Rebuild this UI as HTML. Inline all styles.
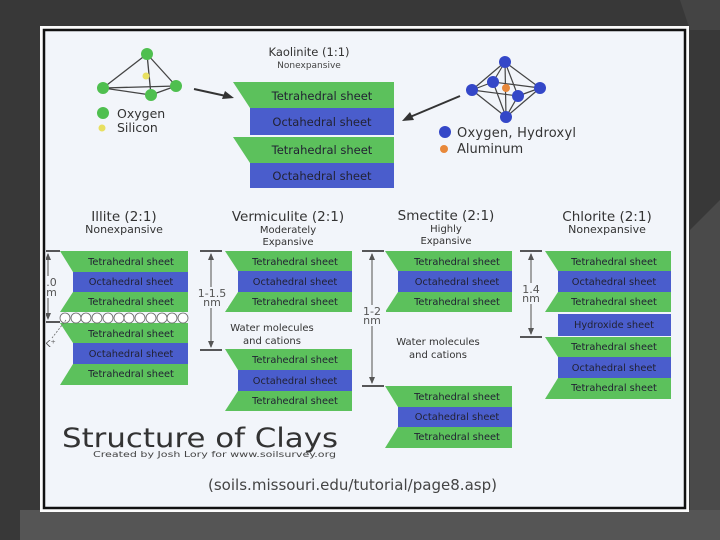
<!DOCTYPE html>
<html><head><meta charset="utf-8"><style>
html,body{margin:0;padding:0;background:#3b3b3b;}
svg{display:block}
text{font-family:"DejaVu Sans","Liberation Sans",sans-serif;}
</style></head><body>
<svg width="720" height="540" viewBox="0 0 720 540" xmlns="http://www.w3.org/2000/svg">
<rect width="720" height="540" fill="#383838"/>
<polygon points="415,0 720,0 720,30 690,30 680,0" fill="#444"/>
<polygon points="690,230 720,200 720,540 690,540" fill="#4a4a4a"/>
<rect x="20" y="510" width="700" height="30" fill="#555"/>
<!-- panel -->
<rect x="40" y="26" width="649" height="486" fill="#fbfbfb"/>
<rect x="44" y="30" width="641" height="478" fill="#f2f5fa" stroke="#111" stroke-width="2.5"/>
<defs><clipPath id="c"><rect x="46" y="32" width="638" height="474"/></clipPath></defs>
<g clip-path="url(#c)">
<!-- tetrahedron -->
<g stroke="#444" stroke-width="1.3" fill="none">
<line x1="147" y1="54" x2="103" y2="88"/><line x1="147" y1="54" x2="151" y2="95"/><line x1="147" y1="54" x2="176" y2="86"/>
<line x1="103" y1="88" x2="151" y2="95"/><line x1="151" y1="95" x2="176" y2="86"/><line x1="103" y1="88" x2="176" y2="86"/>
</g>
<circle cx="146" cy="76" r="3.5" fill="#e8e060"/>
<g fill="#4fbf4f"><circle cx="147" cy="54" r="6"/><circle cx="103" cy="88" r="6"/><circle cx="151" cy="95" r="6"/><circle cx="176" cy="86" r="6"/><circle cx="103" cy="113" r="6"/></g>
<circle cx="102" cy="128" r="3.5" fill="#e8e060"/>
<text x="117" y="118" font-size="12.5" fill="#333">Oxygen</text>
<text x="117" y="132" font-size="12.5" fill="#333">Silicon</text>
<line x1="194" y1="89" x2="226" y2="96" stroke="#333" stroke-width="2"/>
<polygon points="234,98 222,99 225,91" fill="#333"/>
<!-- octahedron -->
<g stroke="#444" stroke-width="1.2">
<line x1="505" y1="62" x2="472" y2="90"/><line x1="505" y1="62" x2="540" y2="88"/><line x1="505" y1="62" x2="493" y2="82"/><line x1="505" y1="62" x2="518" y2="96"/>
<line x1="506" y1="117" x2="472" y2="90"/><line x1="506" y1="117" x2="540" y2="88"/><line x1="506" y1="117" x2="493" y2="82"/><line x1="506" y1="117" x2="518" y2="96"/>
<line x1="472" y1="90" x2="493" y2="82"/><line x1="493" y1="82" x2="540" y2="88"/><line x1="540" y1="88" x2="518" y2="96"/><line x1="518" y1="96" x2="472" y2="90"/>
<line x1="505" y1="62" x2="506" y2="117"/>
</g>
<circle cx="506" cy="88" r="4" fill="#e8883a"/>
<g fill="#3447c8"><circle cx="505" cy="62" r="6"/><circle cx="472" cy="90" r="6"/><circle cx="540" cy="88" r="6"/><circle cx="493" cy="82" r="6"/><circle cx="518" cy="96" r="6"/><circle cx="506" cy="117" r="6"/><circle cx="445" cy="132" r="6"/></g>
<circle cx="444" cy="149" r="4" fill="#e8883a"/>
<text x="457" y="137" textLength="119" font-size="13" fill="#333">Oxygen, Hydroxyl</text>
<text x="457" y="153" font-size="13" fill="#333">Aluminum</text>
<line x1="460" y1="96" x2="410" y2="117" stroke="#333" stroke-width="2"/>
<polygon points="402,121 410,112 414,120" fill="#333"/>
<!-- Kaolinite -->
<text x="309" y="56" font-size="11.5" fill="#333" text-anchor="middle">Kaolinite (1:1)</text>
<text x="309" y="68" font-size="9" fill="#444" text-anchor="middle">Nonexpansive</text>
<g font-size="11.5" fill="#223" text-anchor="middle">
<polygon points="233,82 394,82 394,108 250,108" fill="#5cc15c"/>
<rect x="250" y="108" width="144" height="27" fill="#4a5dcc"/>
<polygon points="233,137 394,137 394,163 250,163" fill="#5cc15c"/>
<rect x="250" y="163" width="144" height="25" fill="#4a5dcc"/>
<text x="322" y="100">Tetrahedral sheet</text>
<text x="322" y="126">Octahedral sheet</text>
<text x="322" y="154">Tetrahedral sheet</text>
<text x="322" y="180">Octahedral sheet</text>
</g>
<!-- headings -->
<g fill="#333" text-anchor="middle">
<text x="124" y="221" font-size="13.5">Illite (2:1)</text>
<text x="124" y="233" font-size="11">Nonexpansive</text>
<text x="288" y="221" font-size="13.5">Vermiculite (2:1)</text>
<text x="288" y="233" font-size="10">Moderately</text>
<text x="288" y="245" font-size="10">Expansive</text>
<text x="446" y="220" font-size="13.5">Smectite (2:1)</text>
<text x="446" y="232" font-size="10">Highly</text>
<text x="446" y="244" font-size="10">Expansive</text>
<text x="607" y="221" font-size="13.5">Chlorite (2:1)</text>
<text x="607" y="233" font-size="11">Nonexpansive</text>
<text x="272" y="331" font-size="10">Water molecules</text>
<text x="272" y="344" font-size="10">and cations</text>
<text x="438" y="345" font-size="10">Water molecules</text>
<text x="438" y="358" font-size="10">and cations</text>
</g>
<!-- sheets 2:1 -->
<g font-size="9.8" fill="#223" text-anchor="middle">
<polygon points="60,251 188,251 188,272 73,272" fill="#5cc15c"/>
<rect x="73" y="272" width="115" height="20" fill="#4a5dcc"/>
<polygon points="73,292 188,292 188,312 60,312" fill="#5cc15c"/>
<polygon points="60,323 188,323 188,343 73,343" fill="#5cc15c"/>
<rect x="73" y="343" width="115" height="21" fill="#4a5dcc"/>
<polygon points="73,364 188,364 188,385 60,385" fill="#5cc15c"/>
<text x="131" y="265">Tetrahedral sheet</text><text x="131" y="285">Octahedral sheet</text><text x="131" y="305">Tetrahedral sheet</text>
<text x="131" y="337">Tetrahedral sheet</text><text x="131" y="357">Octahedral sheet</text><text x="131" y="377">Tetrahedral sheet</text>
<polygon points="225,251 352,251 352,271 238,271" fill="#5cc15c"/>
<rect x="238" y="271" width="114" height="21" fill="#4a5dcc"/>
<polygon points="238,292 352,292 352,312 225,312" fill="#5cc15c"/>
<polygon points="225,349 352,349 352,370 238,370" fill="#5cc15c"/>
<rect x="238" y="370" width="114" height="21" fill="#4a5dcc"/>
<polygon points="238,391 352,391 352,411 225,411" fill="#5cc15c"/>
<text x="295" y="265">Tetrahedral sheet</text><text x="295" y="285">Octahedral sheet</text><text x="295" y="305">Tetrahedral sheet</text>
<text x="295" y="363">Tetrahedral sheet</text><text x="295" y="384">Octahedral sheet</text><text x="295" y="404">Tetrahedral sheet</text>
<polygon points="385,251 512,251 512,271 398,271" fill="#5cc15c"/>
<rect x="398" y="271" width="114" height="21" fill="#4a5dcc"/>
<polygon points="398,292 512,292 512,312 385,312" fill="#5cc15c"/>
<polygon points="385,386 512,386 512,407 398,407" fill="#5cc15c"/>
<rect x="398" y="407" width="114" height="20" fill="#4a5dcc"/>
<polygon points="398,427 512,427 512,448 385,448" fill="#5cc15c"/>
<text x="457" y="265">Tetrahedral sheet</text><text x="457" y="285">Octahedral sheet</text><text x="457" y="305">Tetrahedral sheet</text>
<text x="457" y="400">Tetrahedral sheet</text><text x="457" y="420">Octahedral sheet</text><text x="457" y="440">Tetrahedral sheet</text>
<polygon points="545,251 671,251 671,271 558,271" fill="#5cc15c"/>
<rect x="558" y="271" width="113" height="21" fill="#4a5dcc"/>
<polygon points="558,292 671,292 671,312 545,312" fill="#5cc15c"/>
<rect x="558" y="314" width="113" height="22" fill="#4a5dcc"/>
<polygon points="545,337 671,337 671,357 558,357" fill="#5cc15c"/>
<rect x="558" y="357" width="113" height="21" fill="#4a5dcc"/>
<polygon points="558,378 671,378 671,399 545,399" fill="#5cc15c"/>
<text x="614" y="265">Tetrahedral sheet</text><text x="614" y="285">Octahedral sheet</text><text x="614" y="305">Tetrahedral sheet</text>
<text x="614" y="328">Hydroxide sheet</text>
<text x="614" y="350">Tetrahedral sheet</text><text x="614" y="371">Octahedral sheet</text><text x="614" y="391">Tetrahedral sheet</text>
</g>
<g fill="#fff" stroke="#666" stroke-width="0.8">
<circle cx="65" cy="318" r="5"/><circle cx="76" cy="318" r="5"/><circle cx="86" cy="318" r="5"/><circle cx="97" cy="318" r="5"/><circle cx="108" cy="318" r="5"/><circle cx="119" cy="318" r="5"/><circle cx="129" cy="318" r="5"/><circle cx="140" cy="318" r="5"/><circle cx="151" cy="318" r="5"/><circle cx="162" cy="318" r="5"/><circle cx="172" cy="318" r="5"/><circle cx="183" cy="318" r="5"/>
</g>
<g stroke="#777" stroke-width="1.3" fill="#777">
<line x1="48" y1="254" x2="48" y2="318"/>
<line x1="211" y1="254" x2="211" y2="347"/>
<line x1="372" y1="254" x2="372" y2="383"/>
<line x1="531" y1="254" x2="531" y2="334"/>
</g>
<g stroke="#222" stroke-width="1.5">
<line x1="30" y1="251" x2="60" y2="251"/><line x1="30" y1="322" x2="60" y2="322"/>
<line x1="200" y1="251" x2="222" y2="251"/><line x1="200" y1="350" x2="222" y2="350"/>
<line x1="362" y1="251" x2="384" y2="251"/><line x1="362" y1="386" x2="384" y2="386"/>
<line x1="520" y1="251" x2="542" y2="251"/><line x1="520" y1="337" x2="542" y2="337"/>
</g>
<g fill="#555">
<polygon points="211,253 208,260 214,260"/><polygon points="211,348 208,341 214,341"/>
<polygon points="372,253 369,260 375,260"/><polygon points="372,384 369,377 375,377"/>
<polygon points="531,253 528,260 534,260"/><polygon points="531,335 528,328 534,328"/>
<polygon points="48,253 45,260 51,260"/><polygon points="48,320 45,313 51,313"/>
</g>
<g font-size="11" fill="#555" text-anchor="middle">
<rect x="34" y="276" width="26" height="22" fill="#f2f5fa"/>
<text x="48" y="286">1.0</text><text x="48" y="296">nm</text>
<rect x="194" y="287" width="34" height="21" fill="#f2f5fa"/>
<text x="212" y="297">1-1.5</text><text x="212" y="306">nm</text>
<rect x="358" y="305" width="28" height="21" fill="#f2f5fa"/>
<text x="372" y="315">1-2</text><text x="372" y="324">nm</text>
<rect x="518" y="283" width="26" height="21" fill="#f2f5fa"/>
<text x="531" y="293">1.4</text><text x="531" y="302">nm</text>
</g>
<line x1="66" y1="320" x2="52" y2="338" stroke="#666" stroke-width="0.8" stroke-dasharray="2,1.5"/>
<text x="44" y="347" font-size="10" fill="#555">K⁺</text>
<text x="62" y="447" font-size="27" textLength="276" lengthAdjust="spacingAndGlyphs" fill="#333">Structure of Clays</text>
<text x="93" y="457" font-size="7.5" textLength="243" lengthAdjust="spacingAndGlyphs" fill="#444">Created by Josh Lory for www.soilsurvey.org</text>
<text x="208" y="490" font-size="15" textLength="289" lengthAdjust="spacingAndGlyphs" fill="#444">(soils.missouri.edu/tutorial/page8.asp)</text>
</g>
</svg>
</body></html>
